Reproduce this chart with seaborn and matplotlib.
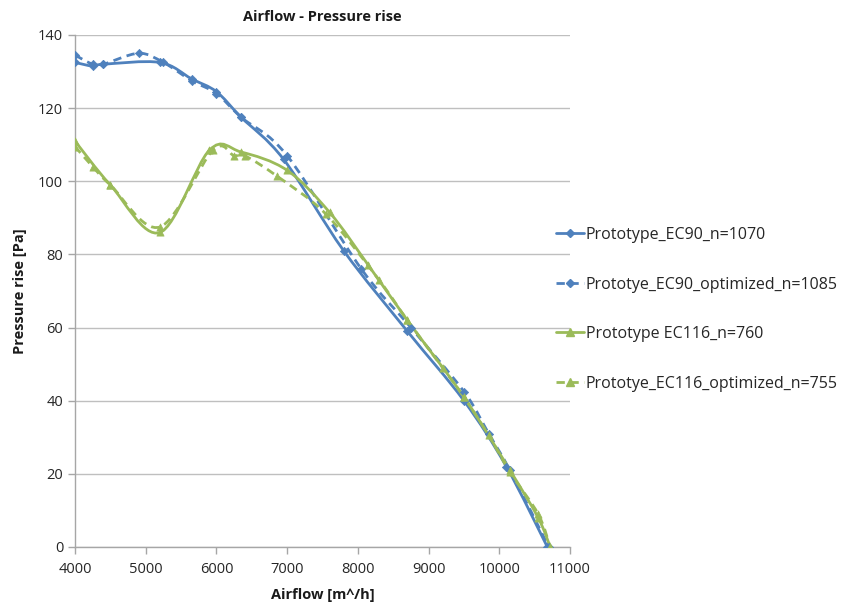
import numpy as np
import pandas as pd
import matplotlib
matplotlib.use("Agg")
import matplotlib.pyplot as plt
from matplotlib.lines import Line2D
from matplotlib.path import Path
from matplotlib.patches import PathPatch
import seaborn as sns

ec90_x = [4000, 4250, 4400, 5200, 5650, 6000, 6350, 6950, 7800, 8700, 9500, 10100, 10680]
ec90_y = [132.5, 131.5, 132, 132.5, 128, 124.5, 117.5, 106, 81, 59, 40, 22, 0]

ec90_opt_x = [4000, 4250, 4400, 4900, 5250, 5650, 6000, 6350, 7000, 8050, 8750, 9500, 9850, 10150, 10700]
ec90_opt_y = [134.5, 132, 132, 135, 132.5, 127.5, 124, 117.5, 107, 76, 60, 42.5, 31, 21, 0]

ec116_x = [4000, 4500, 5200, 5900, 6350, 7000, 7600, 8150, 8700, 9500, 10150, 10550, 10720]
ec116_y = [111, 99, 86, 108.5, 108, 103, 91.5, 77, 62, 41, 21, 8, 0]

ec116_opt_x = [4000, 4250, 4500, 5200, 5950, 6250, 6400, 6850, 7550, 8300, 8700, 9200, 9500,
               9850, 10150, 10550, 10720]
ec116_opt_y = [109.5, 104, 99, 87.5, 108.5, 107, 107, 101.5, 91, 73, 62, 49, 41, 30.5, 20.5, 9, 0]

labels = [
    "Prototype_EC90_n=1070",
    "Prototye_EC90_optimized_n=1085",
    "Prototype EC116_n=760",
    "Prototye_EC116_optimized_n=755",
]

BLUE = "#4F81BD"
GREEN = "#9BBB59"


def smooth_path(x, y) -> Path:
    # Excel-style smoothed line: cubic Bezier through the measured points
    pts = np.column_stack([x, y]).astype(float)
    n = len(pts)
    verts = [pts[0]]
    codes = [Path.MOVETO]
    for i in range(n - 1):
        p0 = pts[i - 1] if i > 0 else pts[i]
        p1 = pts[i]
        p2 = pts[i + 1]
        p3 = pts[i + 2] if i + 2 < n else pts[i + 1]
        verts += [p1 + (p2 - p0) / 6, p2 - (p3 - p1) / 6, p2]
        codes += [Path.CURVE4] * 3
    return Path(verts, codes)


sns.set_theme(style="white")
plt.rcParams["font.family"] = ["Open Sans", "DejaVu Sans"]

fig = plt.figure(figsize=(8.5, 6.03), dpi=100)
ax = fig.add_axes([75 / 850, 1 - 547 / 603, 495 / 850, 512 / 603])

series = [
    (ec90_x, ec90_y, BLUE, "-", "D", 4.2),
    (ec90_opt_x, ec90_opt_y, BLUE, (0, (3, 2)), "D", 4.2),
    (ec116_x, ec116_y, GREEN, "-", "^", 5.2),
    (ec116_opt_x, ec116_opt_y, GREEN, (0, (3, 2)), "^", 5.2),
]

handles = []
for (x, y, color, ls, marker, ms), label in zip(series, labels):
    ax.add_patch(PathPatch(smooth_path(x, y), facecolor="none", edgecolor=color,
                           lw=2, linestyle=ls, zorder=3))
    df = pd.DataFrame({"x": x, "y": y})
    sns.scatterplot(data=df, x="x", y="y", marker=marker, color=color, s=ms ** 2,
                    edgecolor=color, linewidth=0.5, ax=ax, zorder=4)
    handles.append(Line2D([], [], color=color, lw=2, linestyle=ls, marker=marker,
                          markersize=ms, markeredgecolor=color))

ax.set_xlim(4000, 11000)
ax.set_ylim(0, 140)
ax.set_xticks(range(4000, 11001, 1000))
ax.set_yticks(range(0, 141, 20))
ax.yaxis.grid(True, color="#bfbfbf", lw=1)
ax.xaxis.grid(False)
ax.set_axisbelow(True)
for side in ["top", "right"]:
    ax.spines[side].set_visible(False)
for side in ["left", "bottom"]:
    ax.spines[side].set_color("#a6a6a6")
    ax.spines[side].set_linewidth(1)
ax.tick_params(axis="both", which="major", direction="out", length=5, width=1,
               color="#a6a6a6", labelsize=10.5, labelcolor="#262626", bottom=True, left=True)
ax.tick_params(axis="x", pad=6)

ax.set_xlabel("Airflow [m^/h]", fontsize=10.5, fontweight="bold", color="#1a1a1a", labelpad=8)
ax.set_ylabel("Pressure rise [Pa]", fontsize=10.5, fontweight="bold", color="#1a1a1a", labelpad=8)
ax.set_title("Airflow - Pressure rise", fontsize=10.5, fontweight="bold", color="#1a1a1a", pad=10)

fig.legend(handles, labels, loc="upper left", bbox_to_anchor=(556 / 850, 1 - 227 / 603),
           frameon=False, fontsize=11.5, handlelength=1.75, handletextpad=0.1,
           labelspacing=2.1, borderpad=0, borderaxespad=0)

fig.savefig("out.png", dpi=100)
